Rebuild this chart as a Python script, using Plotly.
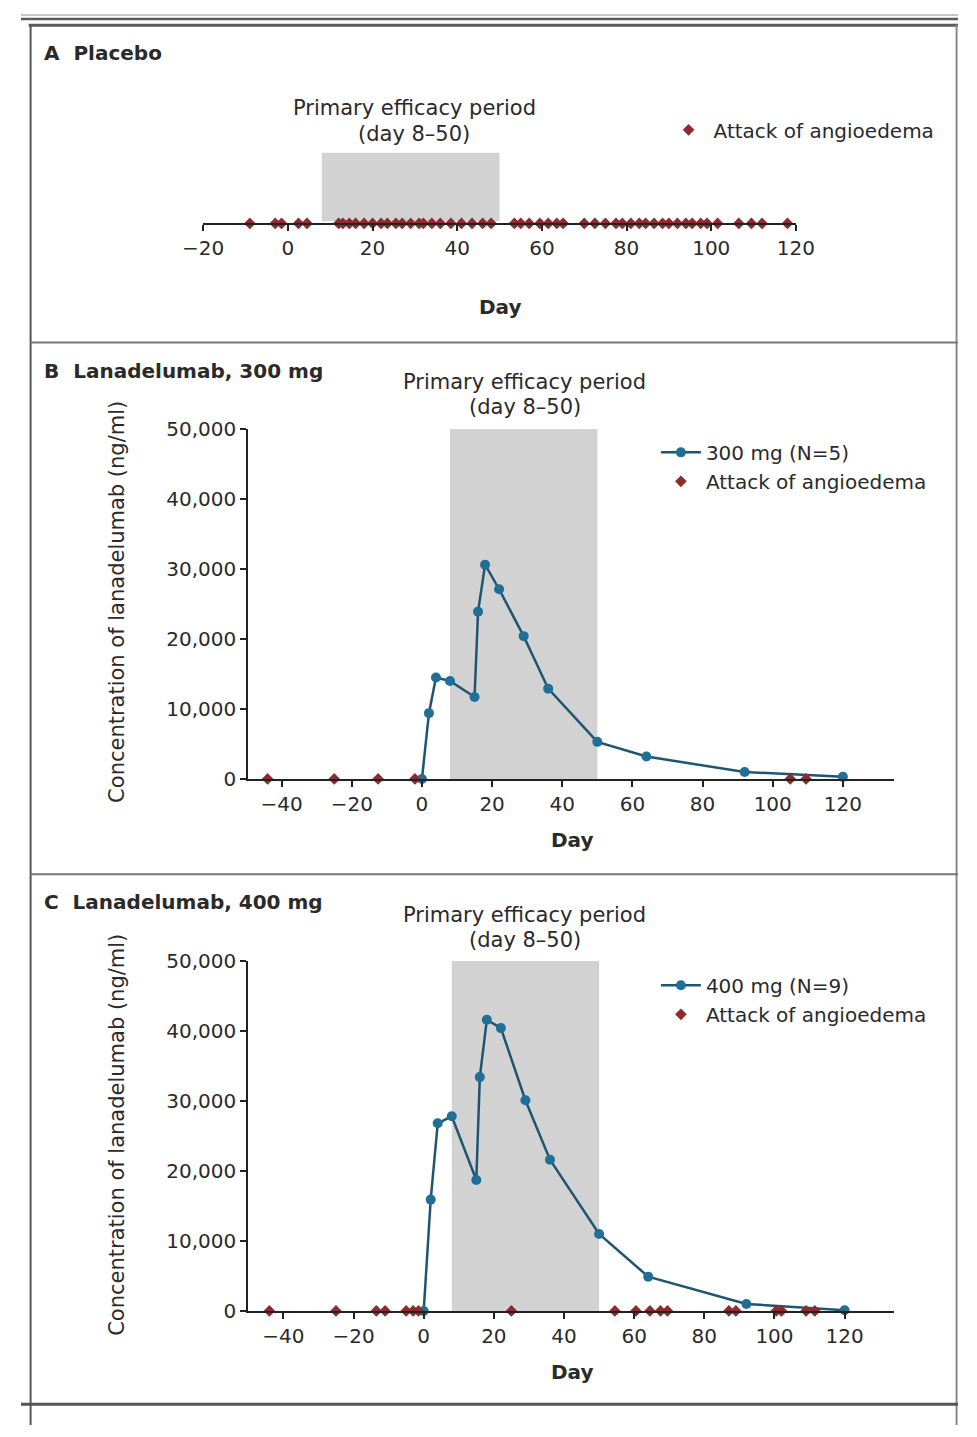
import plotly.graph_objects as go

W, H = 977, 1437


def px(x):
    return x / W


def py(y):
    return 1 - y / H


# ---------------- data ----------------
placebo_attack_days = [-9, -3, -1.5, 2.5, 4.5, 12, 13, 14.5, 16, 18, 20, 22, 23.5, 25.5, 27,
                       29, 31, 32, 34, 36, 38.5, 41, 43.5, 46, 48, 53.5, 55, 57, 59.5, 61.5,
                       63.5, 65, 70, 72.5, 75, 77.5, 79, 81, 83, 84.5, 86.5, 88.5, 90, 92, 94,
                       95.5, 97.5, 99, 101.5, 106.5, 109.5, 112, 118]

days_300 = [0, 2, 4, 8, 15, 16, 18, 22, 29, 36, 50, 64, 92, 120]
conc_300 = [0, 9400, 14500, 14000, 11700, 23900, 30600, 27100, 20400, 12900, 5300, 3200, 1000, 300]
attack_300_days = [-44, -25, -12.5, -2, 105, 109.5]

days_400 = [0, 2, 4, 8, 15, 16, 18, 22, 29, 36, 50, 64, 92, 120]
conc_400 = [0, 15900, 26800, 27800, 18700, 33400, 41600, 40400, 30100, 21600, 11000, 4900, 1000, 100]
attack_400_days = [-44, -25, -13.5, -11, -5, -3, -1.5, 25, 54.5, 60.5, 64.5, 67.5, 69.5,
                   87, 89, 100.5, 102, 109, 111.5]

efficacy_period = [8, 50]
x_ticks_a = [-20, 0, 20, 40, 60, 80, 100, 120]
x_ticks_bc = [-40, -20, 0, 20, 40, 60, 80, 100, 120]
y_ticks = [0, 10000, 20000, 30000, 40000, 50000]

# ---------------- style ----------------
FONT = "DejaVu Sans"
TXT = "#2a2a2a"
ATTACK = "#8e2b2f"
LINE_C = "#1f5570"
MARK_C = "#1f6f96"
SHADE = "#d2d2d2"
FS = 20

fig = go.Figure()

# Panel A
fig.add_trace(go.Scatter(
    x=placebo_attack_days, y=[0] * len(placebo_attack_days), mode="markers",
    marker=dict(symbol="diamond", size=9, color=ATTACK),
    name="Attack of angioedema", xaxis="x", yaxis="y", cliponaxis=False,
    legend="legend"))

# Panel B
fig.add_trace(go.Scatter(
    x=days_300, y=conc_300, mode="lines+markers",
    line=dict(color=LINE_C, width=2.5),
    marker=dict(symbol="circle", size=10, color=MARK_C),
    name="300 mg (N=5)", xaxis="x2", yaxis="y2", cliponaxis=False, legend="legend2"))
fig.add_trace(go.Scatter(
    x=attack_300_days, y=[0] * len(attack_300_days), mode="markers",
    marker=dict(symbol="diamond", size=9, color=ATTACK),
    name="Attack of angioedema", xaxis="x2", yaxis="y2", cliponaxis=False, legend="legend2"))

# Panel C
fig.add_trace(go.Scatter(
    x=days_400, y=conc_400, mode="lines+markers",
    line=dict(color=LINE_C, width=2.5),
    marker=dict(symbol="circle", size=10, color=MARK_C),
    name="400 mg (N=9)", xaxis="x3", yaxis="y3", cliponaxis=False, legend="legend3"))
fig.add_trace(go.Scatter(
    x=attack_400_days, y=[0] * len(attack_400_days), mode="markers",
    marker=dict(symbol="diamond", size=9, color=ATTACK),
    name="Attack of angioedema", xaxis="x3", yaxis="y3", cliponaxis=False, legend="legend3"))

tickfont = dict(family=FONT, size=FS, color=TXT)
xcommon = dict(showline=True, linecolor="#222", linewidth=2, ticks="outside", ticklen=6,
               tickwidth=2, tickcolor="#222", showgrid=False, zeroline=False,
               tickfont=tickfont, fixedrange=True)

fig.update_layout(
    width=W, height=H, margin=dict(l=0, r=0, t=0, b=0),
    paper_bgcolor="white", plot_bgcolor="rgba(0,0,0,0)",
    font=dict(family=FONT, size=FS, color=TXT),
    xaxis=dict(domain=[px(190), px(808)], range=[-20, 120], tickvals=x_ticks_a,
               anchor="y", **xcommon),
    yaxis=dict(domain=[py(215), py(143)], range=[0, 1], visible=False, anchor="x"),
    xaxis2=dict(domain=[px(237), px(910)], range=[-49.5, 134.5], tickvals=x_ticks_bc,
                anchor="y2", **xcommon),
    yaxis2=dict(domain=[py(780), py(424)], range=[0, 50000], tickvals=y_ticks,
                tickformat=",", anchor="x2", **xcommon),
    xaxis3=dict(domain=[px(237), px(910)], range=[-50, 134], tickvals=x_ticks_bc,
                anchor="y3", **xcommon),
    yaxis3=dict(domain=[py(1321), py(965)], range=[0, 50000], tickvals=y_ticks,
                tickformat=",", anchor="x3", **xcommon),
    showlegend=True,
)

legend_common = dict(font=dict(family=FONT, size=FS, color=TXT), bgcolor="rgba(0,0,0,0)",
                     borderwidth=0, xanchor="left", yanchor="top", tracegroupgap=0,
                     itemwidth=40, itemclick=False, itemdoubleclick=False)
fig.update_layout(
    legend=dict(x=px(670), y=py(100), **legend_common),
    legend2=dict(x=px(662), y=py(428), **legend_common),
    legend3=dict(x=px(662), y=py(970), **legend_common),
)

shapes = []
# efficacy shading
shapes.append(dict(type="rect", xref="x", yref="y", x0=efficacy_period[0], x1=efficacy_period[1],
                   y0=0.03, y1=1, fillcolor=SHADE, line=dict(width=0), layer="below"))
shapes.append(dict(type="rect", xref="x2", yref="y2", x0=efficacy_period[0], x1=efficacy_period[1],
                   y0=0, y1=50000, fillcolor=SHADE, line=dict(width=0), layer="below"))
shapes.append(dict(type="rect", xref="x3", yref="y3", x0=efficacy_period[0], x1=efficacy_period[1],
                   y0=0, y1=50000, fillcolor=SHADE, line=dict(width=0), layer="below"))


def hline(y, x0, x1, color, width):
    shapes.append(dict(type="line", xref="paper", yref="paper", x0=px(x0), x1=px(x1),
                       y0=py(y), y1=py(y), line=dict(color=color, width=width)))


def vline(x, y0, y1, color, width):
    shapes.append(dict(type="line", xref="paper", yref="paper", x0=px(x), x1=px(x),
                       y0=py(y0), y1=py(y1), line=dict(color=color, width=width)))


hline(3, 0, 977, "#b5b5b5", 1.5)
hline(7, 0, 977, "#5b5b5b", 2.5)
hline(13.5, 8, 977, "#5b5b5b", 3)
vline(10, 13, 1437, "#555555", 2)
vline(975.5, 13, 1437, "#8a8a8a", 2)
hline(336, 10, 977, "#777777", 2)
hline(877, 10, 977, "#777777", 2)
hline(1416, 0, 977, "#555555", 3)
fig.update_layout(shapes=shapes)

ann = []


def text(x, y, s, size=FS, bold=False, angle=0, xanchor="center", color=TXT):
    ann.append(dict(xref="paper", yref="paper", x=px(x), y=py(y), text=(f"<b>{s}</b>" if bold else s),
                    showarrow=False, xanchor=xanchor, yanchor="middle", textangle=angle,
                    font=dict(family=FONT, size=size, color=color)))


text(22, 42, "A&nbsp;&nbsp;Placebo", size=20, bold=True, xanchor="left")
text(22, 365, "B&nbsp;&nbsp;Lanadelumab, 300 mg", size=20, bold=True, xanchor="left")
text(22, 905, "C&nbsp;&nbsp;Lanadelumab, 400 mg", size=20, bold=True, xanchor="left")

text(410, 98, "Primary efficacy period", size=21)
text(410, 124, "(day 8–50)", size=21)
text(525, 376, "Primary efficacy period", size=21)
text(525, 402, "(day 8–50)", size=21)
text(525, 918, "Primary efficacy period", size=21)
text(525, 944, "(day 8–50)", size=21)

text(500, 300, "Day", bold=True)
text(575, 842, "Day", bold=True)
text(575, 1383, "Day", bold=True)

text(100, 600, "Concentration of lanadelumab (ng/ml)", size=21, angle=-90)
text(100, 1142, "Concentration of lanadelumab (ng/ml)", size=21, angle=-90)

fig.update_layout(annotations=ann)

fig.write_html(
    "out.html",
    post_script="document.body.style.margin='0';document.body.style.padding='0';"
                "document.documentElement.style.margin='0';document.documentElement.style.overflow='hidden';",
)
